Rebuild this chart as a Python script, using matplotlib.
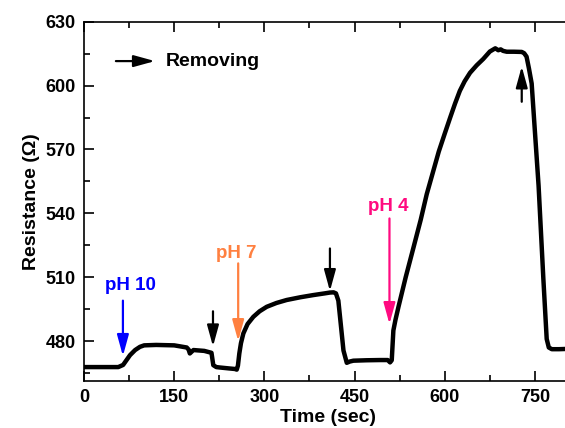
import matplotlib
matplotlib.use("Agg")
import matplotlib.pyplot as plt
from matplotlib.ticker import MultipleLocator

plt.rcParams['font.family'] = ['Liberation Sans', 'DejaVu Sans']
plt.rcParams['font.weight'] = 'bold'

# resistance trace
time_s = [0, 30, 57, 65, 76.5, 85, 93, 100, 120, 150, 170.8, 174, 176, 179, 182,
          200, 212, 215, 220, 226, 240, 251, 254, 256, 258.3, 261, 265, 272,
          281.6, 292, 303.8, 320, 337, 360, 381, 400, 409, 415, 419, 423, 427,
          431.5, 437, 442, 448, 470, 492, 505, 509, 511.8, 514.5, 518, 523, 535,
          548, 560, 570, 580, 590, 600, 609, 617, 625, 633, 642, 653, 664, 675,
          684, 689, 693, 697, 703, 715, 728, 732, 736, 740, 744.5, 750, 756, 764,
          769.5, 773, 778, 790, 800]
resistance = [467.8, 467.8, 467.8, 468.8, 473.4, 475.8, 477.3, 478, 478.2, 478,
              477, 476, 474.2, 475, 475.8, 475.4, 474.5, 468.7, 467.8, 467.6,
              467.2, 466.9, 466.6, 468.5, 474.2, 479, 483.6, 488, 491.4, 494,
              496.1, 497.9, 499.3, 500.6, 501.6, 502.4, 502.8, 502.9, 502.4, 499,
              488, 475.6, 469.8, 470.4, 470.8, 471, 471.1, 471.1, 470, 471, 485,
              490, 496.1, 510, 524, 537, 549, 559, 569, 577.5, 585, 591.5, 597.5,
              602, 606, 609.5, 612.5, 616, 617.5, 616.6, 617, 616.3, 615.9, 615.9,
              615.8, 615.2, 613.6, 608, 601, 578, 553, 509, 481, 477, 476.2,
              476.2, 476.3]

# pH additions: label, colour, label pos, arrow tail, arrow tip
ph_labels = ['pH 10', 'pH 7', 'pH 4']
ph_colors = ['#0000FF', '#FF8040', '#FF0A80']
ph_text_xy = [(77, 506.3), (254, 521.2), (506, 543.1)]
ph_tail = [(64.7, 499), (256.4, 516.5), (508, 537.6)]
ph_tip = [(64.7, 473.0), (256.4, 480.0), (508, 488.0)]

# removal arrows (black)
rm_tail = [(214.5, 494), (409, 523.5), (728, 592.4)]
rm_tip = [(214.5, 477.5), (409, 503.5), (728, 609)]

fig = plt.figure(figsize=(5.65, 4.28), dpi=100)
ax = fig.add_axes([0.1487, 0.1105, 0.862, 0.8388])

ax.plot(time_s, resistance, color='black', lw=3.2,
        solid_joinstyle='round', solid_capstyle='round')

arr = dict(arrowstyle='-|>,head_length=0.8,head_width=0.22', lw=1.6,
           mutation_scale=16, shrinkA=0, shrinkB=0)
for lab, col, txy, a, b in zip(ph_labels, ph_colors, ph_text_xy, ph_tail, ph_tip):
    ax.text(txy[0], txy[1], lab, color=col, fontsize=13.5, fontweight='bold',
            ha='center', va='center')
    ax.annotate('', xy=b, xytext=a, arrowprops=dict(arr, color=col))
for a, b in zip(rm_tail, rm_tip):
    ax.annotate('', xy=b, xytext=a, arrowprops=dict(arr, color='black'))

# legend-like key
ax.annotate('', xy=(118, 611.5), xytext=(53, 611.5),
            arrowprops=dict(arr, color='black'))
ax.text(136, 611.5, 'Removing', fontsize=14, fontweight='bold', va='center')

ax.set_xlim(0, 810)
ax.set_ylim(461.4, 630)
ax.xaxis.set_major_locator(MultipleLocator(150))
ax.xaxis.set_minor_locator(MultipleLocator(75))
ax.yaxis.set_major_locator(MultipleLocator(30))
ax.yaxis.set_minor_locator(MultipleLocator(15))
ax.tick_params(which='both', direction='in', top=True, right=False,
               labelsize=13, width=1.2, pad=6)
ax.tick_params(which='major', length=7)
ax.tick_params(which='minor', length=4)
for s in ax.spines.values():
    s.set_linewidth(1.2)

ax.set_xlabel('Time (sec)', fontsize=14, fontweight='bold', labelpad=2)
ax.set_ylabel('Resistance (\u03a9)', fontsize=14, fontweight='bold', labelpad=4)

fig.savefig('out.png', dpi=100)
